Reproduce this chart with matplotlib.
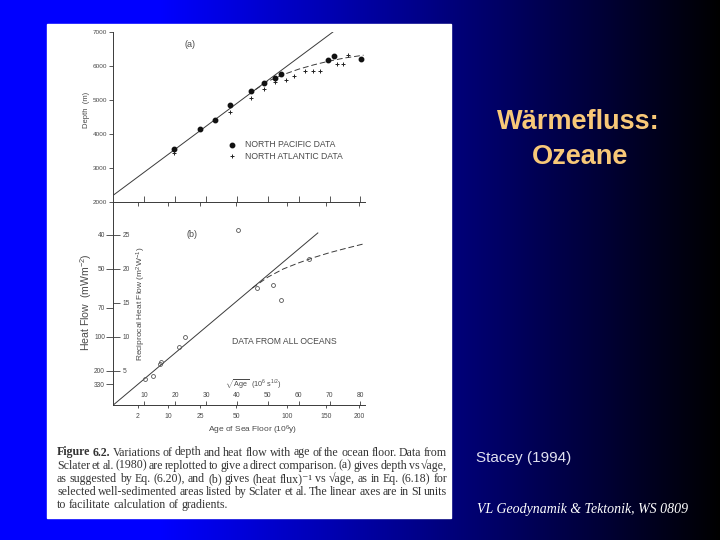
import numpy as np
import matplotlib.pyplot as plt
from matplotlib.patches import Rectangle

plt.rcParams['font.family'] = ['Liberation Sans', 'DejaVu Sans']
plt.rcParams['mathtext.fontset'] = 'custom'
plt.rcParams['mathtext.rm'] = 'Liberation Sans'
plt.rcParams['mathtext.it'] = 'Liberation Sans:italic'

# (a) depth vs sqrt(age), sqrt(age) in 10^6 s^1/2
pac_x = [19.5, 28.2, 33.0, 37.9, 44.6, 48.8, 52.3, 54.3, 69.6, 71.5, 80.3]
pac_depth = [3570, 4140, 4420, 4860, 5250, 5500, 5650, 5750, 6160, 6280, 6210]
atl_x = [19.7, 37.9, 44.6, 48.8, 52.3, 55.9, 58.6, 62.1, 64.6, 66.9, 72.5, 74.3, 76.1]
atl_depth = [3450, 4630, 5040, 5310, 5520, 5590, 5710, 5840, 5845, 5840, 6040, 6060, 6330]
fit_a_x = [0, 71.2]
fit_a_depth = [2200, 7000]
plate_a_x = [46, 50, 55, 60, 65, 70, 75, 81]
plate_a_depth = [5300, 5545, 5740, 5900, 6030, 6140, 6230, 6310]

# (b) reciprocal heat flow vs sqrt(age)
oce_x = [10.4, 13.0, 15.0, 15.3, 21.4, 23.3, 40.3, 46.5, 51.6, 54.3, 63.5]
oce_recip = [3.8, 4.2, 6.1, 6.3, 8.5, 10.0, 25.7, 17.2, 17.7, 15.4, 21.5]
fit_b_x = [0, 66.2]
fit_b_recip = [0, 25.3]
plate_b_x = [45, 50, 55, 60, 65, 70, 75, 82]
plate_b_recip = [17.2, 18.8, 20.0, 20.9, 21.7, 22.4, 23.0, 23.8]

sqrt_ticks = [10, 20, 30, 40, 50, 60, 70, 80]
age_ticks = [2, 10, 25, 50, 100, 150, 200]          # 10^6 y
heat_ticks = [40, 50, 70, 100, 200, 330]            # mW m^-2
recip_ticks = [5, 10, 15, 20, 25]

caption = [
    "Figure 6.2.  Variations of depth and heat flow with age of the ocean floor.  Data from",
    "Sclater et al. (1980) are replotted to give a direct comparison.  (a) gives depth vs \u221aage,",
    "as suggested by Eq. (6.20), and (b) gives  (heat flux)\u207b\u00b9 vs \u221aage, as in Eq.  (6.18)  for",
    "selected well-sedimented areas listed by Sclater et al.  The linear axes are in SI units",
    "to facilitate calculation of gradients.",
]

W, H = 720, 540
ink = '#3a3a3a'
txt = '#4a4a4a'


def fx(x):
    return x / W


def fy(y):
    return 1 - y / H


def age_pos(t):
    # age in 10^6 y -> sqrt(seconds) in 10^6 s^1/2
    return np.sqrt(np.asarray(t) * 3.156e13) / 1e6


fig = plt.figure(figsize=(7.2, 5.4), dpi=100)

# slide background
bg = fig.add_axes([0, 0, 1, 1], zorder=-5)
xs = np.arange(W)
blue = np.where(xs < 160, 1.0, 1 - (xs - 160) / (W - 160))
img = np.zeros((1, W, 3))
img[0, :, 2] = blue
bg.imshow(img, extent=[0, 1, 0, 1], aspect='auto')
bg.add_patch(Rectangle((fx(47), fy(518)), fx(451 - 47), (518 - 24) / H, color='white'))
bg.set_xlim(0, 1)
bg.set_ylim(0, 1)
bg.axis('off')

left, right = 113.3, 364.8
xmax = 81.4

# ---- (a)
ax_a = fig.add_axes([fx(left), fy(202), fx(right - left), (202 - 31.7) / H], zorder=2)
ax_a.patch.set_visible(False)
ax_a.plot(fit_a_x, fit_a_depth, color=ink, lw=0.7)
ax_a.plot(plate_a_x, plate_a_depth, color=ink, lw=0.7, ls=(0, (6, 3)))
ax_a.plot(pac_x, pac_depth, 'o', color='#111111', ms=3.2, ls='none')
ax_a.plot(atl_x, atl_depth, '+', color='#222222', ms=2.6, mew=0.7, ls='none')
ax_a.set_xlim(0, xmax)
ax_a.set_ylim(2000, 7000)
ax_a.set_yticks([2000, 3000, 4000, 5000, 6000, 7000])
ax_a.set_xticks(sqrt_ticks)
ax_a.set_xticklabels([])
ax_a.tick_params(axis='x', direction='in', length=4, width=0.6, color=ink)
ax_a.tick_params(axis='y', direction='out', length=3, width=0.6, color=ink,
                 labelsize=4.6, labelcolor=txt, pad=1.5)
sec_a = ax_a.secondary_xaxis('bottom')
sec_a.set_xticks(age_pos(age_ticks))
sec_a.set_xticklabels([])
sec_a.tick_params(direction='out', length=3, width=0.6, color=ink)
sec_a.spines['bottom'].set_visible(False)
for s in ['top', 'right']:
    ax_a.spines[s].set_visible(False)
for s in ['left', 'bottom']:
    ax_a.spines[s].set_color(ink)
    ax_a.spines[s].set_linewidth(0.7)
ax_a.text(0.285, 0.91, '(a)', transform=ax_a.transAxes, fontsize=6.5, color=txt)
ax_a.plot([0.47], [0.335], 'o', color='#111111', ms=3.2, transform=ax_a.transAxes)
ax_a.plot([0.47], [0.27], '+', color='#222222', ms=2.6, mew=0.7, transform=ax_a.transAxes)
ax_a.text(0.525, 0.335, 'NORTH PACIFIC DATA', transform=ax_a.transAxes, fontsize=6.2,
          color=txt, va='center')
ax_a.text(0.525, 0.27, 'NORTH ATLANTIC DATA', transform=ax_a.transAxes, fontsize=6.2,
          color=txt, va='center')
fig.text(fx(86.7), fy(110), 'Depth  (m)', rotation=90, fontsize=5.5, color=txt,
         ha='center', va='center')

# ---- (b)
ax_b = fig.add_axes([fx(left), fy(405), fx(right - left), (405 - 202) / H], zorder=1)
ax_b.patch.set_visible(False)
ax_b.plot(fit_b_x, fit_b_recip, color=ink, lw=0.7)
ax_b.plot(plate_b_x, plate_b_recip, color=ink, lw=0.7, ls=(0, (6, 3)))
ax_b.plot(oce_x, oce_recip, 'o', mfc='none', mec='#555555', ms=2.8, mew=0.6, ls='none')
ax_b.set_xlim(0, xmax)
ax_b.set_ylim(0, 29.85)
ax_b.set_yticks(1000 / np.array(heat_ticks))
ax_b.set_yticklabels([str(h) for h in heat_ticks])
ax_b.tick_params(axis='y', direction='out', length=5, width=0.6, color=ink,
                 labelsize=4.8, labelcolor=txt, pad=1)
ax_b.set_xticks(age_pos(age_ticks))
ax_b.set_xticklabels([str(a) for a in age_ticks])
ax_b.tick_params(axis='x', direction='out', length=2.5, width=0.6, color=ink,
                 labelsize=4.9, labelcolor=txt, pad=3.5)
for s in ['top', 'right']:
    ax_b.spines[s].set_visible(False)
for s in ['left', 'bottom']:
    ax_b.spines[s].set_color(ink)
    ax_b.spines[s].set_linewidth(0.7)

# reciprocal scale drawn on the inside of the left spine
rec = ax_b.twinx()
rec.patch.set_visible(False)
rec.set_ylim(0, 29.85)
rec.spines['right'].set_position(('axes', 0))
for s in ['top', 'left', 'bottom', 'right']:
    rec.spines[s].set_visible(False)
rec.set_yticks(recip_ticks)
rec.tick_params(axis='y', direction='out', length=5, width=0.6, color=ink,
                labelsize=4.8, labelcolor=txt, pad=1.5)

# sqrt(age) scale just above the bottom spine
sq = ax_b.twiny()
sq.patch.set_visible(False)
sq.set_xlim(0, xmax)
sq.spines['top'].set_position(('axes', 0))
for s in ['top', 'left', 'right', 'bottom']:
    sq.spines[s].set_visible(False)
sq.set_xticks(sqrt_ticks)
sq.tick_params(axis='x', direction='out', length=3, width=0.6, color=ink,
               labelsize=4.9, labelcolor=txt, pad=1.5)

ax_b.text(0.29, 0.83, '(b)', transform=ax_b.transAxes, fontsize=6.5, color=txt)
ax_b.text(0.47, 0.315, 'DATA FROM ALL OCEANS', transform=ax_b.transAxes, fontsize=6.2,
          color=txt, va='center')
fig.text(fx(253), fy(384.5), r'$\sqrt{\rm Age}$  (10$^6$ s$^{1/2}$)', fontsize=5.2,
         color=txt, ha='center', va='center')
fig.text(fx(253), fy(430), 'Age of Sea Floor (10$^6$y)', fontsize=6, color=txt,
         ha='center', va='center')
fig.text(fx(86), fy(302), 'Heat Flow  (mWm$^{-2}$)', rotation=90, fontsize=7.6,
         color=txt, ha='center', va='center')
fig.text(fx(141.7), fy(304), 'Reciprocal Heat Flow (m$^2$W$^{-1}$)', rotation=90,
         fontsize=6, color=txt, ha='center', va='center')

# caption, justified between two margins
serif = ['Liberation Serif', 'DejaVu Serif']
cap_base = [455.5, 468.7, 481.9, 495.1, 508.3]
renderer = fig.canvas.get_renderer()
x0, x1 = 57, 447
for i, (line, y) in enumerate(zip(caption, cap_base)):
    words = line.split()
    items = []
    for j, w in enumerate(words):
        bold = (i == 0 and j < 2)
        t = fig.text(0, fy(y), w, family=serif, fontsize=8.6, color='#333333',
                     va='baseline', weight='bold' if bold else 'normal')
        items.append((t, t.get_window_extent(renderer).width))
    total = sum(wd for _, wd in items)
    if i < len(caption) - 1:
        gap = (x1 - x0 - total) / (len(items) - 1)
    else:
        gap = 2.8
    x = x0
    for t, wd in items:
        t.set_x(fx(x))
        x += wd + gap

# slide texts
fig.text(fx(578), fy(122), 'W\u00e4rmefluss:', fontsize=19.5, weight='bold', color='#f8c878',
         ha='center', va='center')
fig.text(fx(580), fy(157), 'Ozeane', fontsize=19.5, weight='bold', color='#f8c878',
         ha='center', va='center')
fig.text(fx(476), fy(458), 'Stacey (1994)', fontsize=11, color='#e0e0f0', va='center')
fig.text(fx(477), fy(510), 'VL Geodynamik & Tektonik, WS 0809', family=serif,
         style='italic', fontsize=10, color='white', va='center')

fig.savefig('out.png', dpi=100)
